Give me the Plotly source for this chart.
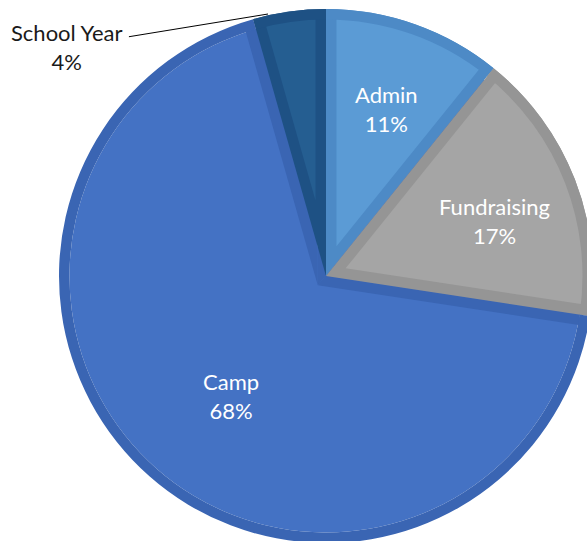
import math
import plotly.graph_objects as go

# ---- data ----
categories = ["Admin", "Fundraising", "Camp", "School Year"]
shares = [10.8, 16.6, 68.2, 4.4]

# ---- style ----
inner_colors = ["#5B9BD5", "#A5A5A5", "#4472C4", "#255E91"]
edge_colors = ["#4D8AC6", "#959595", "#3A65B3", "#1E5184"]
CLEAR = "rgba(0,0,0,0)"
FONT = "Lato"
FSIZE = 22

W, H = 600, 560             # paper (window shows the top-left 587x541)
CX, CY, R = 326, 276, 267   # pie centre / radius in px
B = 10.5                    # width of the darker inner rim of each slice

total = float(sum(shares))
starts, acc = [], 0.0
for v in shares:
    starts.append(acc / total)
    acc += v
ends = [s + v / total for s, v in zip(starts, shares)]


def mid_angle(i):
    return math.radians(90 - 360 * (starts[i] + ends[i]) / 2)


def half_angle(i):
    return math.pi * (ends[i] - starts[i])


def clamp(v):
    return min(1.0, max(0.0, v))


def dom(cx, cy, rad):
    return dict(x=[clamp((cx - rad) / W), clamp((cx + rad) / W)],
                y=[clamp(1 - (cy + rad) / H), clamp(1 - (cy - rad) / H)])


def pie(colors, cx, cy, rad, hole=0.0):
    return go.Pie(labels=categories, values=shares, sort=False,
                  direction="clockwise", rotation=0,
                  marker=dict(colors=colors, line=dict(width=0)),
                  domain=dom(cx, cy, rad), hole=hole,
                  textinfo="none", hoverinfo="skip", showlegend=False)


def only(idx_list, palette):
    return [palette[i] if i in idx_list else CLEAR for i in range(len(categories))]


traces = []
camp = categories.index("Camp")
others = [i for i in range(len(categories)) if i != camp]

# 1. camp inner fill (concentric, reduced radius)
traces.append(pie(only([camp], inner_colors), CX, CY, R - B))

# 2. widened wedge of the other slices in camp's edge colour -> camp side rims
d_w = B / math.sin(math.pi - half_angle(camp))
m = mid_angle(camp)
px, py = CX + d_w * math.cos(m), CY - d_w * math.sin(m)
traces.append(pie([edge_colors[camp] if i != camp else CLEAR for i in range(len(categories))],
                  px, py, R - 3))

# 3. other slices in their edge colours
traces.append(pie(only(others, edge_colors), CX, CY, R))

# 4. inset inner fills of the other slices
for i in others:
    d = B / math.sin(half_angle(i))
    mi = mid_angle(i)
    sx, sy = CX + d * math.cos(mi), CY - d * math.sin(mi)
    traces.append(pie(only([i], inner_colors), sx, sy, R - d - 3))

# 5. outer rim ring
traces.append(pie(edge_colors, CX, CY, R, hole=(R - B) / R))

fig = go.Figure(traces)


def pct(i):
    return f"{round(shares[i] / total * 100)}%"


# data labels (label centre positions in px)
label_pos = {"Admin": (386, 109), "Fundraising": (494, 221), "Camp": (231, 396)}
for i, name in enumerate(categories):
    if name in label_pos:
        lx, ly = label_pos[name]
        fig.add_annotation(x=lx / W, y=1 - ly / H, xref="paper", yref="paper",
                           xanchor="center", yanchor="middle", showarrow=False,
                           text=f"{name}<br>{pct(i)}",
                           font=dict(family=FONT, size=FSIZE, color="white"))

sy_i = categories.index("School Year")
fig.add_annotation(
    x=268 / W, y=1 - 14 / H, xref="paper", yref="paper",
    text=f"{categories[sy_i]}<br>{pct(sy_i)}",
    showarrow=True, arrowhead=0, arrowwidth=1, arrowcolor="#000000",
    standoff=0, startstandoff=6, ax=66 - 268, ay=47 - 14,
    font=dict(family=FONT, size=FSIZE, color="#1a1a1a"),
)

fig.update_layout(width=W, height=H, margin=dict(l=0, r=0, t=0, b=0),
                  paper_bgcolor="white", plot_bgcolor="white", showlegend=False)

fig.write_html(
    "out.html",
    config={"displayModeBar": False, "staticPlot": True},
    post_script=("document.body.style.margin='0';"
                 "document.body.style.overflow='hidden';"
                 "document.documentElement.style.overflow='hidden';"),
)
